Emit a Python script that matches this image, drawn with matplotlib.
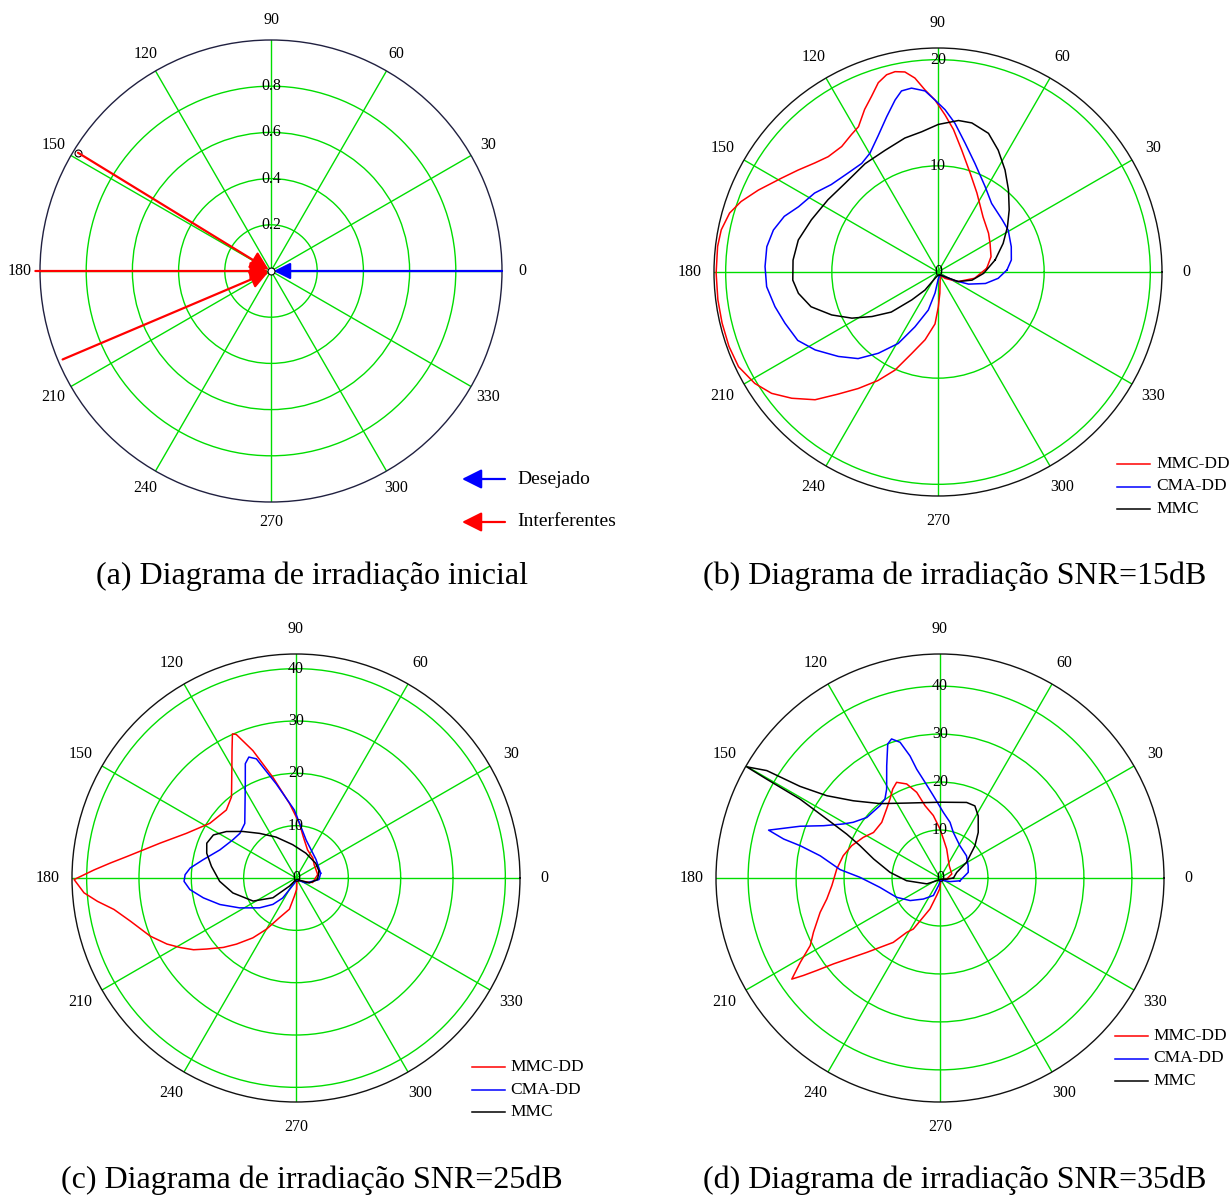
import numpy as np
import matplotlib.pyplot as plt
from matplotlib.lines import Line2D
from matplotlib.patches import FancyArrowPatch

plt.rcParams['font.family'] = ['Liberation Serif', 'DejaVu Serif']

# ---- dados (angulo em graus, raio) ----
# (a) direcoes de chegada
desejado_ang = [0]
desejado_r = [1.0]
interf_ang = [148.5, 180, 203]
interf_r = [0.98, 1.02, 0.98]

# (b) SNR = 15 dB
b_mmcdd_ang = [4.3, 16.1, 28.9, 37.5, 50.7, 63.8, 72, 79, 83.8, 87.4, 91, 94.1, 96.8, 99.4, 102.1, 104.6, 107.5,
               110.7, 114.3, 118.7, 122.2, 127.5, 133.6, 138.5, 143.9, 149.1, 155.5, 160.3, 164.2, 169, 173.4,
               180.3, 187.2, 193.3, 199.6, 205.4, 211.3, 216.1, 220.8, 226.1, 230.6, 235.6, 241, 246.3, 252,
               259.2, 266.7, 270.5, 275, 290, 310, 318, 334.6, 350.3]
b_mmcdd_r = [4.6, 5.2, 5.6, 6.0, 6.7, 8.3, 9.8, 11.7, 13.5, 14.8, 16.2, 17.2, 18.4, 19.1, 19.3, 19.2, 18.7,
             17.7, 16.8, 15.6, 15.3, 14.9, 15.0, 15.5, 16.3, 17.2, 18.6, 19.7, 20.4, 20.8, 20.9,
             20.9, 20.9, 20.9, 20.9, 20.8, 20.2, 19.4, 18.2, 16.7, 14.9, 13.3, 11.7, 10.1, 8.1,
             6.5, 4.9, 3.3, 2.0, 0.6, 0.5, 0.9, 2.1, 3.5]
b_cmadd_ang = [1.7, 9.3, 19, 30.8, 39.2, 52, 61.2, 71.2, 78.1, 83.5, 87.5, 91, 94.1, 98.2, 101.4, 104, 108.3,
               113.8, 119.8, 125.1, 132.3, 140.7, 147.4, 154.9, 160.1, 165.7, 171.6, 178.2, 184.9, 192, 198.5,
               206, 212.4, 220.3, 227.3, 233.7, 240.9, 247.2, 255.7, 262, 270, 290, 310, 326, 333, 338.4,
               346.4, 354]
b_cmadd_r = [6.5, 7.0, 7.3, 7.7, 7.8, 8.2, 9.2, 10.8, 12.4, 14.1, 15.3, 16.2, 17.1, 17.5, 17.4, 16.7, 15.4,
             14.0, 12.9, 12.5, 12.6, 13.0, 13.8, 14.5, 15.4, 16.0, 16.3, 16.3, 16.2, 15.7, 15.2,
             14.7, 13.7, 12.3, 11.1, 9.5, 7.7, 5.6, 3.7, 2.0, 0.75, 0.4, 0.4, 0.8, 1.8, 3.1,
             4.6, 5.7]
b_mmc_ang = [11.9, 23.7, 33, 41.1, 49.4, 56.7, 63.7, 70, 77.2, 82.3, 89.9, 96.6, 103.9, 113.5, 123.9, 136.4,
             146.7, 157.6, 167.1, 175.3, 183.2, 188.7, 195.3, 202, 208.2, 214, 220.6, 226.8, 234.2, 245,
             270, 300, 326, 334.6, 346.6, 358.3]
b_mmc_r = [5.5, 6.7, 7.8, 8.9, 10.2, 11.5, 12.8, 13.9, 14.4, 14.4, 13.9, 13.3, 13.0, 12.5, 12.3, 12.1,
           12.4, 12.9, 13.5, 13.7, 13.7, 13.3, 12.4, 10.8, 9.2, 7.5, 5.8, 3.6, 2.1, 0.65,
           0.3, 0.3, 0.8, 2.1, 3.3, 4.3]

# (c) SNR = 25 dB
c_mmcdd_ang = [9, 36, 50, 67.6, 80, 86.5, 95, 103, 108.7, 112.6, 113.8, 116.6, 120, 128.5, 135.7, 147.6, 157.8,
               165.6, 172.7, 175.4, 177.7, 180.4, 184, 186.7, 189.8, 194.6, 201.7, 207.1, 211, 215, 218.5,
               223.7, 228, 234.2, 240, 247.4, 258, 264.8, 273, 290, 315, 345]
c_mmcdd_r = [4.2, 4.3, 5.0, 5.8, 8.0, 10.5, 14.3, 19.8, 25.7, 29.7, 30.1, 27.3, 24.5, 19.8, 18.6, 19.5, 22.6,
             26.8, 32.5, 35.6, 38.6, 42.4, 40.6, 38.2, 35.3, 32.7, 30.0, 27.7, 25.8, 23.9, 21.8,
             19.2, 17.0, 14.1, 11.3, 8.2, 6.1, 3.5, 2.2, 0.5, 0.8, 3.3]
c_cmadd_ang = [11, 42.5, 75, 91.4, 101.9, 108.4, 111.3, 113.9, 118.2, 133.2, 141.5, 148.8, 159.7, 168.9, 174.6,
               178.3, 181.7, 186.2, 192.1, 199.2, 207.9, 219.3, 228.8, 236.3, 240.3, 255, 280, 310, 333, 356]
c_cmadd_r = [4.8, 5.2, 7.5, 13.0, 18.4, 24.0, 24.8, 23.9, 20.5, 14.3, 13.7, 14.1, 15.5, 18.1, 20.3,
             21.2, 21.4, 20.4, 18.1, 15.4, 12.2, 9.0, 6.7, 4.6, 2.6, 1.0, 0.4, 0.5, 2.1, 4.4]
c_mmc_ang = [16, 36.9, 68.2, 95.7, 116, 129.2, 138.8, 146.3, 152.5, 158.7, 164.5, 172.2, 182.5, 193.3, 208.3,
             220.6, 231, 260, 300, 339.4, 355.6]
c_mmc_r = [4.6, 4.7, 5.1, 6.4, 8.7, 11.0, 13.5, 16.0, 17.8, 18.3, 17.7, 16.3, 14.6, 12.4, 9.3,
           5.8, 2.0, 0.4, 0.3, 2.7, 4.1]

# (d) SNR = 35 dB
d_mmcdd_ang = [350, 19, 52.9, 77, 85.1, 90, 96.1, 101.7, 105.2, 109.5, 114.4, 118, 122.3, 127.7, 136.3, 145.6,
               152.1, 159.9, 167, 175, 184, 190.5, 196, 203.2, 207.5, 211.1, 214.3, 215.5, 216.9, 218.9,
               225.4, 234, 238.5, 242.4, 252, 259.3, 268, 300]
d_mmcdd_r = [1.4, 2.6, 3.2, 6.2, 8.2, 10.2, 13.1, 15.4, 18.5, 20.8, 21.9, 21.0, 19.5, 18.2, 16.8, 16.8,
             18.1, 19.6, 20.7, 21.6, 22.6, 24.0, 26.0, 28.7, 30.5, 34.0, 37.4, 35.0, 32.1, 28.5,
             21.8, 16.6, 13.3, 12.0, 6.8, 3.7, 2.3, 0.4]
d_cmadd_ang = [352, 11.3, 23.5, 40, 58.3, 73.7, 79.8, 87.1, 94.6, 98.9, 102.1, 103.8, 106.4, 109.2, 111.3, 115.4,
               121, 124.8, 129.7, 140.4, 147.3, 150.8, 155.8, 159.7, 164.4, 166, 167, 169.5, 175.2, 179.5,
               188.8, 204, 217.1, 231.6, 249.3, 260, 280, 320, 340]
d_cmadd_r = [4.2, 6.0, 6.4, 7.2, 7.9, 9.9, 11.8, 13.7, 17.2, 20.2, 23.2, 26.2, 29.5, 30.7, 30.0, 25.9,
             21.6, 20.1, 19.6, 19.8, 21.5, 23.1, 26.6, 31.1, 37.1, 33.6, 29.9, 25.4, 20.9, 16.7,
             12.7, 9.9, 7.8, 5.6, 3.9, 1.5, 0.5, 0.8, 2.2]
d_mmc_ang = [0, 18.8, 30.4, 42.7, 50, 58.4, 64.2, 70.6, 90, 114, 128.8, 138.3, 144, 146.8, 148.2, 150.1, 150.3,
             150.6, 152.5, 154.8, 158, 164, 173.5, 184.6, 204, 240, 300, 350]
d_mmc_r = [2.8, 3.7, 6.4, 9.9, 12.4, 15.2, 16.7, 16.7, 15.8, 17.1, 19.9, 24.2, 29.2, 34.9, 42.5, 46.5, 41.6,
           33.5, 26.6, 21.5, 18.0, 14.4, 10.5, 7.0, 3.0, 0.5, 0.3, 1.4]

series_names = ['MMC-DD', 'CMA-DD', 'MMC']
series_colors = ['#ff0000', '#0000ff', '#000000']

captions = ['(a) Diagrama de irradiação inicial',
            '(b) Diagrama de irradiação SNR=15dB',
            '(c) Diagrama de irradiação SNR=25dB',
            '(d) Diagrama de irradiação SNR=35dB']

W, H = 1232, 1196
fig = plt.figure(figsize=(W / 100, H / 100), dpi=100)
GREEN = '#00dd00'


def fx(x):
    return x / W


def fy(y):
    return 1 - y / H


def polar_axes(cx, cy, R, rmax, rings, ring_labels, lab_k):
    ax = fig.add_axes([fx(cx - R), fy(cy + R), 2 * R / W, 2 * R / H], projection='polar')
    ax.set_ylim(0, rmax)
    ax.set_xticks(np.deg2rad(np.arange(0, 360, 30)))
    ax.set_xticklabels([])
    ax.set_yticks(rings)
    ax.set_yticklabels([])
    ax.grid(True, color=GREEN, lw=1.0)
    ax.spines['polar'].set_color('#111111')
    ax.spines['polar'].set_linewidth(1.0)
    for a in range(0, 360, 30):
        t = np.deg2rad(a)
        ax.text(0.5 + 0.5 * lab_k * np.cos(t), 0.5 + 0.5 * lab_k * np.sin(t), str(a),
                transform=ax.transAxes, ha='center', va='center', fontsize=11.5)
    for r, s in zip([0] + list(rings), ring_labels):
        if s:
            ax.text(np.pi / 2, r, s, ha='center', va='center', fontsize=11.5)
    return ax


def closed(ang, r):
    return np.deg2rad(ang + [ang[0]]), r + [r[0]]


# ---- (a) ----
ax_a = polar_axes(271, 271, 231, 1.0, [0.2, 0.4, 0.6, 0.8], ['', '0.2', '0.4', '0.6', '0.8'], 1.087)
ax_a.spines['polar'].set_color('#202040')
for a, r in zip(desejado_ang, desejado_r):
    ax_a.annotate('', xy=(np.deg2rad(a), 0.012), xytext=(np.deg2rad(a), r), annotation_clip=False,
                  arrowprops=dict(arrowstyle='-|>,head_length=0.5,head_width=0.25', color='#0000ff',
                                  lw=1.6, shrinkA=0, shrinkB=0, mutation_scale=20))
for a, r in zip(interf_ang, interf_r):
    ax_a.annotate('', xy=(np.deg2rad(a), 0.012), xytext=(np.deg2rad(a), r), annotation_clip=False,
                  arrowprops=dict(arrowstyle='-|>,head_length=0.55,head_width=0.28', color='#ff0000',
                                  lw=1.6, shrinkA=0, shrinkB=0, mutation_scale=20))
ax_a.plot(np.deg2rad(interf_ang[0]), interf_r[0], 'o', ms=5, mfc='white', mec='black', mew=0.8, clip_on=False)
ax_a.plot(0, 0, 'o', ms=5, mfc='white', mec='black', mew=0.8, zorder=5)

for y, c, lab in [(479, '#0000ff', 'Desejado'), (522, '#ff0000', 'Interferentes')]:
    fig.add_artist(FancyArrowPatch((fx(505), fy(y)), (fx(462), fy(y)), transform=fig.transFigure,
                                   arrowstyle='-|>,head_length=0.6,head_width=0.3', mutation_scale=20,
                                   color=c, lw=1.6, shrinkA=0, shrinkB=0))
    fig.text(fx(517), fy(y), lab, ha='left', va='center', fontsize=14)

# ---- (b), (c), (d) ----
panels = [
    (938, 272, 21.1, [10, 20], ['0', '10', '20'],
     [(b_mmcdd_ang, b_mmcdd_r), (b_cmadd_ang, b_cmadd_r), (b_mmc_ang, b_mmc_r)], (1117, 464, 1156)),
    (296, 878, 42.8, [10, 20, 30, 40], ['0', '10', '20', '30', '40'],
     [(c_mmcdd_ang, c_mmcdd_r), (c_cmadd_ang, c_cmadd_r), (c_mmc_ang, c_mmc_r)], (472, 1067, 510)),
    (940, 878, 46.7, [10, 20, 30, 40], ['0', '10', '20', '30', '40'],
     [(d_mmcdd_ang, d_mmcdd_r), (d_cmadd_ang, d_cmadd_r), (d_mmc_ang, d_mmc_r)], (1115, 1036, 1153)),
]

for cx, cy, rmax, rings, rlabs, data, (lx, ly, tx) in panels:
    ax = polar_axes(cx, cy, 224, rmax, rings, rlabs, 1.11)
    for (ang, r), col in zip(data, series_colors):
        t, rr = closed(ang, r)
        ax.plot(t, rr, color=col, lw=1.1)
    for i, (name, col) in enumerate(zip(series_names, series_colors)):
        y = ly + i * 22.5
        fig.add_artist(Line2D([fx(lx), fx(lx + 33)], [fy(y), fy(y)], transform=fig.transFigure, color=col, lw=1.1))
        fig.text(fx(tx), fy(y), name, ha='left', va='center', fontsize=12.5)

# ---- legendas ----
for (x, y), cap in zip([(312, 576), (955, 576), (312, 1180), (955, 1180)], captions):
    fig.text(fx(x), fy(y), cap, ha='center', va='center', fontsize=23)

plt.savefig('out.png', dpi=100)
